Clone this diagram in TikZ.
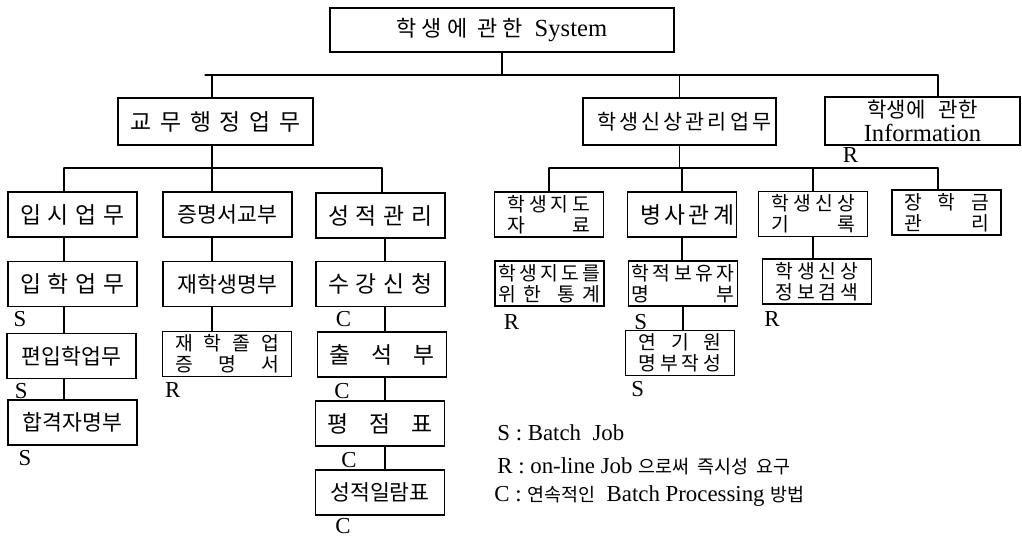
\documentclass[tikz,border=0pt]{standalone}
\usepackage{fontspec}
\setmainfont{Liberation Serif}
\newfontfamily\kr{Noto Sans CJK KR}
\usetikzlibrary{calc}

\newcommand{\spreadline}[2]{\makebox[#1][s]{#2}}
\newcommand{\hangul}[1]{{\kr\fontsize{10.5}{12}\selectfont #1}}

\tikzset{
  task/.style={draw, line width=0.7pt, inner sep=0pt, minimum width=2.58cm,
    minimum height=0.9cm, font=\kr\fontsize{13}{15}\selectfont},
  dense/.style={font=\kr\fontsize{12.3}{14}\selectfont},
  twoline/.style={task, minimum width=2.18cm, align=center,
    font=\kr\fontsize{11}{12}\selectfont},
  tag/.style={anchor=north west, inner sep=0pt, font=\fontsize{13}{15}\selectfont},
  legend/.style={anchor=west, inner sep=0pt, font=\fontsize{13}{15}\selectfont},
  link/.style={line width=0.7pt},
}

\begin{document}
\begin{tikzpicture}[x=0.02cm, y=-0.02cm, line cap=round]
  \useasboundingbox (0,0) rectangle (1022,537);

  % 최상위 시스템
  \node[task, minimum width=6.88cm, minimum height=0.88cm, font=\fontsize{14}{16}\selectfont]
    (sys) at (502,30) {{\kr\fontsize{12.5}{14}\selectfont 학 생 에 \ 관 한}\ \ System};

  % 1단계 업무
  \node[task, minimum width=3.9cm, minimum height=0.94cm] (admin) at (215.5,121.5)
    {\spreadline{3.4cm}{교 무 행 정 업 무}};
  \node[task, font=\kr\fontsize{11.8}{14}\selectfont, minimum width=3.86cm,
    minimum height=0.94cm] (stud) at (679.5,121.5)
    {\spreadline{3.3cm}{학 생 신 상 관 리 업 무}};
  \node[task, minimum width=3.9cm, minimum height=0.96cm, align=center,
    font=\kr\fontsize{12}{13.5}\selectfont] (info) at (922.5,121)
    {\spreadline{2.2cm}{학생에 \ 관한}\\{\rmfamily\fontsize{14}{14}\selectfont Information}};

  % 교무행정업무 아래
  \node[task] (ipsi)    at (72.5,214.5)  {\spreadline{2.1cm}{입 시 업 무}};
  \node[task] (iphak)   at (72.5,284)    {\spreadline{2.1cm}{입 학 업 무}};
  \node[task, dense] (pyeonip) at (71.5,356)    {편입학업무};
  \node[task, dense] (hapgyeok) at (72.5,422.5) {합격자명부};

  \node[task, dense] (cert)   at (227.5,214.5) {증명서교부};
  \node[task, dense] (jaehak) at (227.5,284)   {재학생명부};
  \node[twoline, minimum width=2.58cm] (jolup) at (227,354)
    {\spreadline{2.08cm}{재 학 졸 업}\\\spreadline{2.08cm}{증 명 서}};

  \node[task] (grade)      at (380.5,215.5) {\spreadline{2.1cm}{성 적 관 리}};
  \node[task] (sugang)     at (380.5,284)   {\spreadline{2.1cm}{수 강 신 청}};
  \node[task] (chulseok)   at (382,354.5)   {\spreadline{2.1cm}{출 석 부}};
  \node[task] (pyeongjeom) at (380,423.5)   {\spreadline{2.1cm}{평 점 표}};
  \node[task, dense] (ilram) at (380,492.5) {성적일람표};

  % 학생신상관리업무 아래
  \node[twoline] (jido) at (549,214.5)
    {\spreadline{1.66cm}{학 생 지 도}\\\spreadline{1.66cm}{자 료}};
  \node[twoline] (jidostat) at (549.5,283.5)
    {\spreadline{2.05cm}{학 생 지 도 를}\\\spreadline{2.05cm}{위 한 \ 통 계}};
  \node[task, minimum width=2.18cm] (byeongsa) at (682,214.5)
    {\spreadline{1.68cm}{병 사 관 계}};
  \node[twoline] (hakjeok) at (683,283.5)
    {\spreadline{2.05cm}{학 적 보 유 자}\\\spreadline{2.05cm}{명 부}};
  \node[twoline] (yeongi) at (680,353)
    {\spreadline{1.66cm}{연 기 원}\\\spreadline{1.66cm}{명 부 작 성}};
  \node[twoline] (sinsang) at (813,214)
    {\spreadline{1.68cm}{학 생 신 상}\\\spreadline{1.68cm}{기 록}};
  \node[twoline] (search) at (817,281.5)
    {\spreadline{1.66cm}{학 생 신 상}\\\spreadline{1.66cm}{정 보 검 색}};
  \node[twoline] (jang) at (946.5,212.5)
    {\spreadline{1.7cm}{장 학 금}\\\spreadline{1.7cm}{관 리}};

  % 연결선
  \coordinate (bus0w) at (205,75);
  \coordinate (bus0e) at (938,75);
  \coordinate (bus1w) at (64,168);
  \coordinate (col2)  at (212,168);
  \coordinate (bus1e) at (382,168);
  \coordinate (col3)  at (385,168);
  \coordinate (bus2w) at (549,168);
  \coordinate (bus2e) at (938,168);

  \draw[link] (sys.south) -- (sys.south |- bus0w);
  \draw[link] (bus0w) -- (bus0e);
  \draw[link] (admin.north -| col2) -- (col2 |- bus0w);
  \draw[link] (stud.north) -- (stud.north |- bus0w);
  \draw[link] (bus0e) -- (bus0e |- info.north);

  \draw[link] (admin.south -| col2) -- (col2);
  \draw[link] (bus1w) -- (bus1e);
  \draw[link] (bus1w) -- (bus1w |- ipsi.north);
  \draw[link] (bus1w |- ipsi.south) -- (bus1w |- iphak.north);
  \draw[link] (bus1w |- iphak.south) -- (bus1w |- pyeonip.north);
  \draw[link] (bus1w |- pyeonip.south) -- (bus1w |- hapgyeok.north);
  \draw[link] (col2) -- (col2 |- cert.north);
  \draw[link] (col2 |- cert.south) -- (col2 |- jaehak.north);
  \draw[link] (col2 |- jaehak.south) -- (col2 |- jolup.north);
  \draw[link] (bus1e) -- (bus1e |- grade.north);
  \draw[link] (col3 |- grade.south) -- (col3 |- sugang.north);
  \draw[link] (col3 |- sugang.south) -- (col3 |- chulseok.north);
  \draw[link] (col3 |- chulseok.south) -- (col3 |- pyeongjeom.north);
  \draw[link] (col3 |- pyeongjeom.south) -- (col3 |- ilram.north);

  \draw[link] (stud.south) -- (stud.south |- bus2w);
  \draw[link] (bus2w) -- (bus2e);
  \draw[link] (bus2w) -- (bus2w |- jido.north);
  \draw[link] (byeongsa.north |- bus2w) -- (byeongsa.north);
  \draw[link] (sinsang.north |- bus2w) -- (sinsang.north);
  \draw[link] (bus2e) -- (bus2e |- jang.north);
  \draw[link] (byeongsa.south) -- (byeongsa.south |- hakjeok.north);
  \draw[link] (hakjeok.south) -- (hakjeok.south |- yeongi.north);
  \draw[link] (sinsang.south) -- (sinsang.south |- search.north);

  % 처리 방식 표시
  \node[tag] (tinfo)  at ([shift={(18,2)}]info.south west) {R};
  \node[tag] (tiphak) at ([shift={(6,4)}]iphak.south west) {S};
  \node[tag] (tpyeon) at ([shift={(8,4)}]pyeonip.south west) {S};
  \node[tag] (thap)   at ([shift={(11,4)}]hapgyeok.south west) {S};
  \node[tag] (tjol)   at ([shift={(3,5)}]jolup.south west) {R};
  \node[tag] (tsu)    at ([shift={(20,4)}]sugang.south west) {C};
  \node[tag] (tchul)  at ([shift={(17,5)}]chulseok.south west) {C};
  \node[tag] (tpyeong) at ([shift={(26,5)}]pyeongjeom.south west) {C};
  \node[tag] (tilram) at ([shift={(20,2)}]ilram.south west) {C};
  \node[tag] (tstat)  at ([shift={(9,8)}]jidostat.south west) {R};
  \node[tag] (thak)   at ([shift={(6,7)}]hakjeok.south west) {S};
  \node[tag] (tyeon)  at ([shift={(6,5)}]yeongi.south west) {S};
  \node[tag] (tsrch)  at ([shift={(2,7)}]search.south west) {R};

  % 범례
  \node[legend] (keyS) at (497,433) {S : Batch\ \ Job};
  \node[legend] (keyR) at (497,466) {R : on-line Job \hangul{으로써 \ 즉시성 \ 요구}};
  \node[legend] (keyC) at (494,496) {C : \hangul{연속적인}\ \ Batch Processing \hangul{방법}};
\end{tikzpicture}
\end{document}
